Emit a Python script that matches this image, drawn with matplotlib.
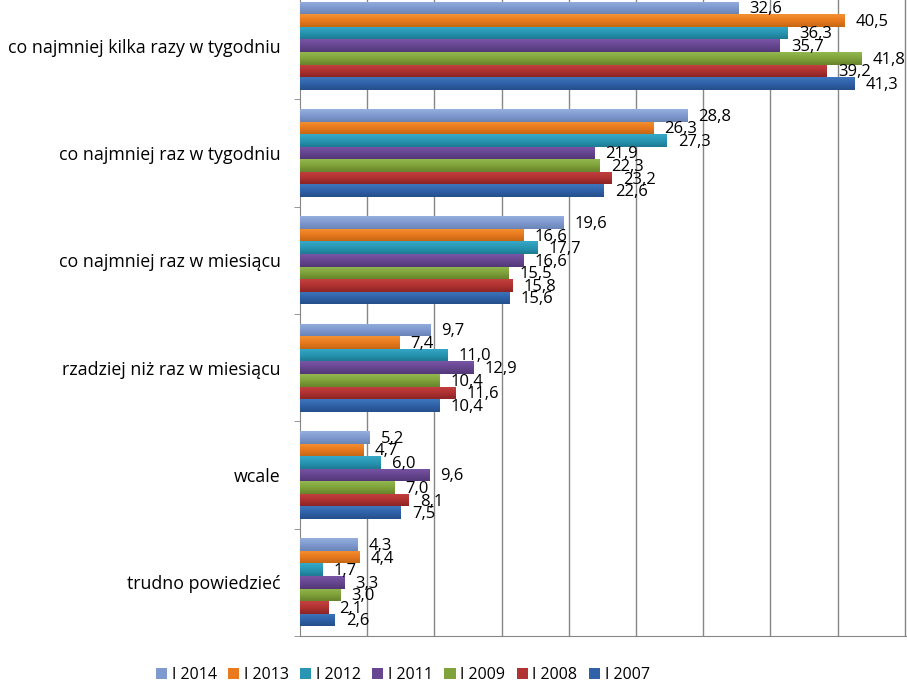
import numpy as np
import matplotlib
matplotlib.use("Agg")
import matplotlib.pyplot as plt
from matplotlib.colors import LinearSegmentedColormap
from matplotlib.patches import Patch

plt.rcParams["font.family"] = ["Open Sans", "DejaVu Sans"]

categories = ["co najmniej kilka razy w tygodniu", "co najmniej raz w tygodniu",
              "co najmniej raz w miesiącu", "rzadziej niż raz w miesiącu",
              "wcale", "trudno powiedzieć"]
years = ["I 2014", "I 2013", "I 2012", "I 2011", "I 2009", "I 2008", "I 2007"]
v2014 = [32.6, 28.8, 19.6, 9.7, 5.2, 4.3]
v2013 = [40.5, 26.3, 16.6, 7.4, 4.7, 4.4]
v2012 = [36.3, 27.3, 17.7, 11.0, 6.0, 1.7]
v2011 = [35.7, 21.9, 16.6, 12.9, 9.6, 3.3]
v2009 = [41.8, 22.3, 15.5, 10.4, 7.0, 3.0]
v2008 = [39.2, 23.2, 15.8, 11.6, 8.1, 2.1]
v2007 = [41.3, 22.6, 15.6, 10.4, 7.5, 2.6]
series = [v2014, v2013, v2012, v2011, v2009, v2008, v2007]

# (top, middle, bottom) shades for the Excel-like gradient
shades = [("#95AFDD", "#7F9ACF", "#6A84B6"),
          ("#F39233", "#E97A1E", "#C56615"),
          ("#36A8C6", "#2896B3", "#1E7A92"),
          ("#7955A6", "#664690", "#523877"),
          ("#93B84F", "#7FA23A", "#66842C"),
          ("#C4403F", "#B03232", "#8C2525"),
          ("#3F75BC", "#2F62A8", "#254F8A")]

fig = plt.figure(figsize=(9.07, 6.84), dpi=100)
ax = fig.add_axes([300 / 907, 48 / 684, 607 / 907, 644 / 684])

n = len(series)
h = 0.117
y = np.arange(len(categories))
for i, vals in enumerate(series):
    pos = y - n * h / 2 + h * (i + 0.5)
    bars = ax.barh(pos, vals, height=h, color=shades[i][1], zorder=3)
    cmap = LinearSegmentedColormap.from_list("g%d" % i, shades[i])
    for b, v in zip(bars, vals):
        x0, y0 = b.get_x(), b.get_y()
        im = ax.imshow(np.linspace(0, 1, 40).reshape(-1, 1), cmap=cmap,
                       extent=(x0, x0 + b.get_width(), y0 + h, y0),
                       aspect="auto", zorder=4)
        im.set_clip_path(b)
        ax.annotate(("%.1f" % v).replace(".", ","), (v, y0 + h / 2),
                    xytext=(8, -1), textcoords="offset points",
                    va="center", ha="left", fontsize=12, zorder=5)

ax.set_xlim(0, 45.17)
ax.set_ylim(len(categories) - 0.5, -0.5)
ax.set_xticks(np.arange(5, 46, 5))
ax.tick_params(axis="x", length=0, labelbottom=False)
ax.grid(axis="x", color="#868686", linewidth=1, zorder=0)

ax.set_yticks(y)
ax.set_yticklabels(categories, fontsize=12.8)
ax.set_yticks(np.arange(-0.5, len(categories)), minor=True)
ax.tick_params(axis="y", which="major", length=0, pad=14)
ax.tick_params(axis="y", which="minor", length=4, color="#868686")

for s in ["top", "right"]:
    ax.spines[s].set_visible(False)
for s in ["left", "bottom"]:
    ax.spines[s].set_color("#868686")

handles = [Patch(facecolor=shades[i][1]) for i in range(n)]
fig.legend(handles, years, loc="center", bbox_to_anchor=(0.444, 0.013), ncol=7,
           frameon=False, fontsize=11.5, handlelength=0.7, handleheight=0.7,
           handletextpad=0.3, columnspacing=0.7)

fig.savefig("out.png", dpi=100)
